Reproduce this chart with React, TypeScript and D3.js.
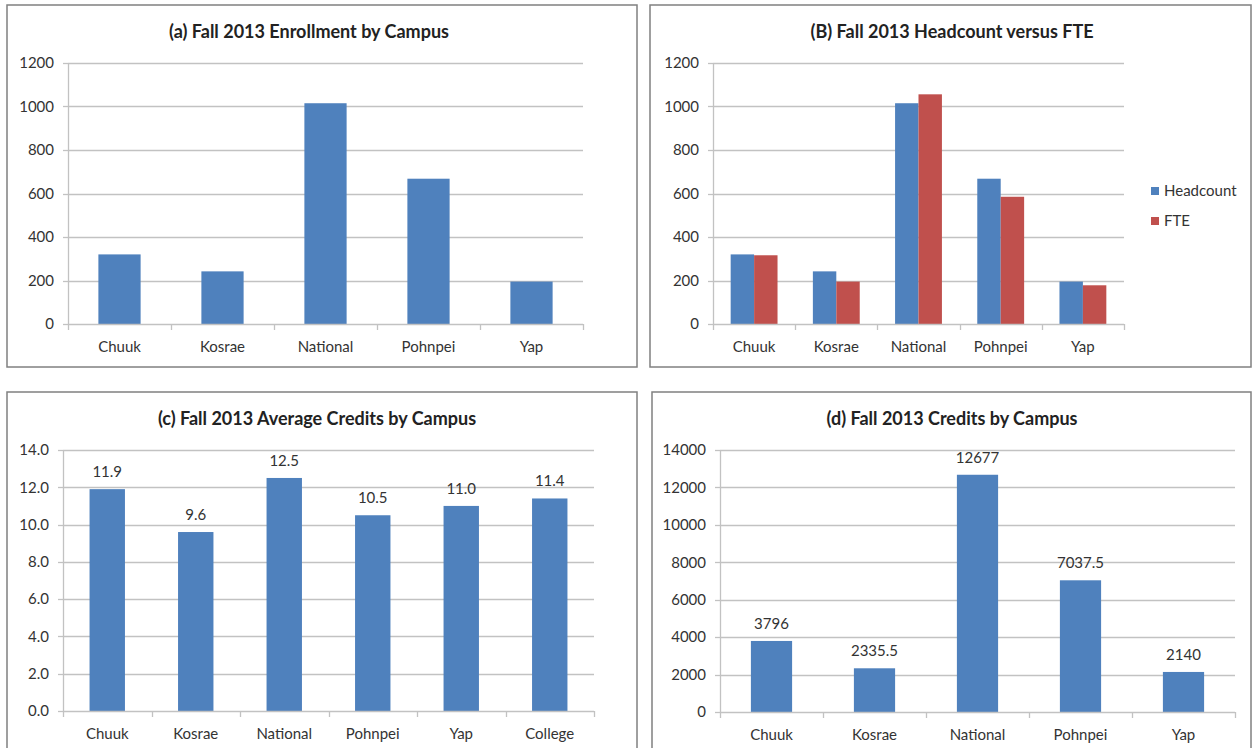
import React, { useRef, useEffect } from 'react'
import * as d3 from 'd3'

const campuses = ['Chuuk', 'Kosrae', 'National', 'Pohnpei', 'Yap']
const campusesWithCollege = ['Chuuk', 'Kosrae', 'National', 'Pohnpei', 'Yap', 'College']
const enrollment = [320, 242, 1015, 668, 195]
const headcount = [320, 242, 1015, 668, 195]
const fte = [316, 195, 1056, 585, 178]
const avgCredits = [11.9, 9.6, 12.5, 10.5, 11.0, 11.4]
const credits = [3796, 2335.5, 12677, 7037.5, 2140]
const seriesNames = ['Headcount', 'FTE']

const BLUE = '#4F81BD'
const RED = '#C0504D'
const FONT = 'Lato, "Open Sans", sans-serif'
const GRID = '#c2c2c2'

interface Panel {
  title: string
  box: [number, number, number, number]
  titleX: number
  x0: number
  x1: number
  yTop: number
  yBottom: number
  yMax: number
  yStep: number
  fmt: (v: number) => string
  categories: string[]
  series: { name: string; values: number[]; color: string }[]
  groupWidth: number
  labels?: boolean
  legend?: boolean
}

const panels: Panel[] = [
  {
    title: '(a) Fall 2013 Enrollment by Campus',
    box: [7, 5, 637, 367], titleX: 309,
    x0: 68, x1: 583, yTop: 63, yBottom: 324,
    yMax: 1200, yStep: 200, fmt: d3.format('d'),
    categories: campuses,
    series: [{ name: 'Enrollment', values: enrollment, color: BLUE }],
    groupWidth: 0.41
  },
  {
    title: '(B) Fall 2013 Headcount versus FTE',
    box: [650, 5, 1251, 367], titleX: 952,
    x0: 713, x1: 1124, yTop: 63, yBottom: 324,
    yMax: 1200, yStep: 200, fmt: d3.format('d'),
    categories: campuses,
    series: [
      { name: seriesNames[0], values: headcount, color: BLUE },
      { name: seriesNames[1], values: fte, color: RED }
    ],
    groupWidth: 0.57,
    legend: true
  },
  {
    title: '(c) Fall 2013 Average Credits by Campus',
    box: [7, 392, 637, 760], titleX: 317,
    x0: 63, x1: 594, yTop: 450, yBottom: 711,
    yMax: 14, yStep: 2, fmt: d3.format('.1f'),
    categories: campusesWithCollege,
    series: [{ name: 'Average Credits', values: avgCredits, color: BLUE }],
    groupWidth: 0.4,
    labels: true
  },
  {
    title: '(d) Fall 2013 Credits by Campus',
    box: [652, 392, 1251, 760], titleX: 952,
    x0: 720, x1: 1235, yTop: 450, yBottom: 712,
    yMax: 14000, yStep: 2000, fmt: d3.format('d'),
    categories: campuses,
    series: [{ name: 'Credits', values: credits, color: BLUE }],
    groupWidth: 0.4,
    labels: true
  }
]

const App: React.FC = () => {
  const svgRef = useRef<SVGSVGElement>(null)

  useEffect(() => {
    if (!svgRef.current) return
    const svg = d3.select(svgRef.current)
    svg.selectAll('*').remove()

    panels.forEach(p => {
      const g = svg.append('g')
      const [bx0, by0, bx1, by1] = p.box
      g.append('rect')
        .attr('x', bx0).attr('y', by0)
        .attr('width', bx1 - bx0).attr('height', by1 - by0)
        .attr('fill', '#fff').attr('stroke', '#808080').attr('stroke-width', 1.5)

      g.append('text')
        .attr('x', p.titleX).attr('y', by0 + 33)
        .attr('text-anchor', 'middle')
        .attr('font-family', FONT).attr('font-weight', 'bold').attr('font-size', 18)
        .attr('fill', '#222')
        .text(p.title)

      const x = d3.scaleBand().domain(p.categories).range([p.x0, p.x1])
      const y = d3.scaleLinear().domain([0, p.yMax]).range([p.yBottom, p.yTop])
      const ticks = d3.range(0, p.yMax + p.yStep / 2, p.yStep)

      // gridlines
      g.selectAll('line.grid').data(ticks.slice(1)).enter().append('line')
        .attr('x1', p.x0).attr('x2', p.x1)
        .attr('y1', d => Math.round(y(d)) + 0.5).attr('y2', d => Math.round(y(d)) + 0.5)
        .attr('stroke', GRID).attr('stroke-width', 1.3)

      // y axis
      g.append('line')
        .attr('x1', p.x0 + 0.5).attr('x2', p.x0 + 0.5)
        .attr('y1', p.yTop).attr('y2', p.yBottom)
        .attr('stroke', GRID).attr('stroke-width', 1.3)
      g.selectAll('line.ytick').data(ticks).enter().append('line')
        .attr('x1', p.x0 - 5).attr('x2', p.x0)
        .attr('y1', d => Math.round(y(d)) + 0.5).attr('y2', d => Math.round(y(d)) + 0.5)
        .attr('stroke', GRID).attr('stroke-width', 1.3)
      g.selectAll('text.ylab').data(ticks).enter().append('text')
        .attr('x', p.x0 - 14).attr('y', d => y(d))
        .attr('dy', '0.35em')
        .attr('text-anchor', 'end')
        .attr('font-family', FONT).attr('font-size', 15).attr('fill', '#333')
        .text(d => p.fmt(d))

      // bars
      const inner = d3.scaleBand()
        .domain(p.series.map(s => s.name))
        .range([0, x.bandwidth() * p.groupWidth])
      const offset = (x.bandwidth() * (1 - p.groupWidth)) / 2
      p.series.forEach(s => {
        g.selectAll(null).data(p.categories).enter().append('rect')
          .attr('x', c => (x(c) || 0) + offset + (inner(s.name) || 0))
          .attr('width', inner.bandwidth())
          .attr('y', (c, i) => y(s.values[i]))
          .attr('height', (c, i) => p.yBottom - y(s.values[i]))
          .attr('fill', s.color)

        if (p.labels) {
          g.selectAll(null).data(p.categories).enter().append('text')
            .attr('x', c => (x(c) || 0) + x.bandwidth() / 2)
            .attr('y', (c, i) => y(s.values[i]) - 12)
            .attr('text-anchor', 'middle')
            .attr('font-family', FONT).attr('font-size', 15).attr('fill', '#333')
            .text((c, i) => String(s.values[i] % 1 === 0 && p.yMax < 100 ? s.values[i].toFixed(1) : s.values[i]))
        }
      })

      // x axis
      g.append('line')
        .attr('x1', p.x0).attr('x2', p.x1)
        .attr('y1', Math.round(p.yBottom) + 0.5).attr('y2', Math.round(p.yBottom) + 0.5)
        .attr('stroke', GRID).attr('stroke-width', 1.3)
      const bounds = p.categories.map(c => x(c) || 0).concat([p.x1])
      g.selectAll('line.xtick').data(bounds).enter().append('line')
        .attr('x1', d => Math.round(d) + 0.5).attr('x2', d => Math.round(d) + 0.5)
        .attr('y1', p.yBottom).attr('y2', p.yBottom + 6)
        .attr('stroke', GRID).attr('stroke-width', 1.3)
      g.selectAll('text.xlab').data(p.categories).enter().append('text')
        .attr('x', c => (x(c) || 0) + x.bandwidth() / 2)
        .attr('y', p.yBottom + 23)
        .attr('dy', '0.35em')
        .attr('text-anchor', 'middle')
        .attr('font-family', FONT).attr('font-size', 15).attr('fill', '#333')
        .text(c => c)

      if (p.legend) {
        p.series.forEach((s, i) => {
          const ly = 191 + i * 30
          g.append('rect')
            .attr('x', 1151).attr('y', ly - 4).attr('width', 8).attr('height', 8)
            .attr('fill', s.color)
          g.append('text')
            .attr('x', 1164).attr('y', ly).attr('dy', '0.35em')
            .attr('font-family', FONT).attr('font-size', 15).attr('fill', '#333')
            .text(s.name)
        })
      }
    })
  }, [])

  return (
    <div>
      <style>{`body { margin: 0; }`}</style>
      <svg ref={svgRef} width={1253} height={748} style={{ display: 'block', background: '#fff' }} />
    </div>
  )
}

export default App
